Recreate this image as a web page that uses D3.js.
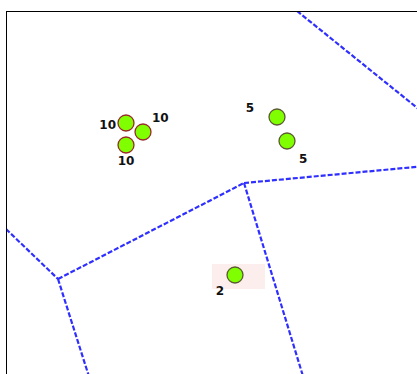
<!DOCTYPE html>
<html>
<head>
<meta charset="utf-8">
<script src="https://cdn.jsdelivr.net/npm/d3@7"></script>
<style>
  html, body { margin: 0; padding: 0; background: #fff; overflow: hidden; }
  svg { display: block; }
</style>
</head>
<body>
<svg id="chart" width="417" height="374"></svg>
<script>
// ---- data (frame coordinates) ----
// Voronoi-style boundary edges: start/end points
const edgeStart = [[291, 0], [0, 218], [52, 268], [238, 172], [52, 268], [238, 172]];
const edgeEnd   = [[420, 104], [52, 268], [238, 172], [420, 155], [86, 375], [300, 375]];

// cluster markers
const pointX = [120, 137, 120, 271, 281, 229];
const pointY = [112, 121, 134, 106, 130, 264];
const pointCount = [10, 10, 10, 5, 5, 2];
const pointGroup = ["a", "a", "a", "b", "b", "c"];
// label offsets relative to marker (dx, dy) and anchor
const labelDX = [-10, 9, 0, -23, 12, -11];
const labelDY = [6, -10, 20, -5, 22, 20];
const labelAnchor = ["end", "start", "middle", "end", "start", "end"];

// highlighted area around the lone marker: [x0, y0, x1, y1]
const highlight = [206, 253, 259, 278];

// ---- layout ----
const svg = d3.select("#chart");
const frameX = 6, frameY = 11;
const W = 417, H = 374;
const x = d3.scaleLinear().domain([0, 411]).range([frameX, W]);
const y = d3.scaleLinear().domain([0, 363]).range([frameY, H]);

svg.append("defs").append("clipPath").attr("id", "clip")
  .append("rect").attr("x", frameX).attr("y", frameY)
  .attr("width", W - frameX + 10).attr("height", H - frameY + 10);

const g = svg.append("g").attr("clip-path", "url(#clip)");

// highlight rect
g.append("rect")
  .attr("x", x(highlight[0])).attr("y", y(highlight[1]))
  .attr("width", x(highlight[2]) - x(highlight[0]))
  .attr("height", y(highlight[3]) - y(highlight[1]))
  .attr("fill", "#fdeeee");

// edges
const edges = edgeStart.map((s, i) => [s, edgeEnd[i]]);
g.selectAll("line.edge").data(edges).join("line")
  .attr("class", "edge")
  .attr("x1", d => x(d[0][0])).attr("y1", d => y(d[0][1]))
  .attr("x2", d => x(d[1][0])).attr("y2", d => y(d[1][1]))
  .attr("stroke", "#2f2fff")
  .attr("stroke-width", 2.2)
  .attr("stroke-dasharray", "5,2");

// points
const pts = pointX.map((px, i) => ({
  x: px, y: pointY[i], n: pointCount[i], grp: pointGroup[i],
  dx: labelDX[i], dy: labelDY[i], anchor: labelAnchor[i]
}));
const strokeColor = { a: "#9a2a2a", b: "#5a5a32", c: "#5a5a32" };

g.selectAll("circle.pt").data(pts).join("circle")
  .attr("class", "pt")
  .attr("cx", d => x(d.x)).attr("cy", d => y(d.y))
  .attr("r", 8)
  .attr("fill", "#7fff00")
  .attr("stroke", d => strokeColor[d.grp])
  .attr("stroke-width", 1.3);

g.selectAll("text.lbl").data(pts).join("text")
  .attr("class", "lbl")
  .attr("x", d => x(d.x) + d.dx).attr("y", d => y(d.y) + d.dy)
  .attr("text-anchor", d => d.anchor)
  .attr("font-family", "DejaVu Sans, sans-serif")
  .attr("font-weight", "bold")
  .attr("font-size", 12)
  .attr("fill", "#111")
  .text(d => d.n);

// frame (left and top borders visible, extends beyond window)
svg.append("rect")
  .attr("x", frameX + 0.5).attr("y", frameY + 0.5)
  .attr("width", W).attr("height", H)
  .attr("fill", "none").attr("stroke", "#000").attr("stroke-width", 1);
</script>
</body>
</html>
